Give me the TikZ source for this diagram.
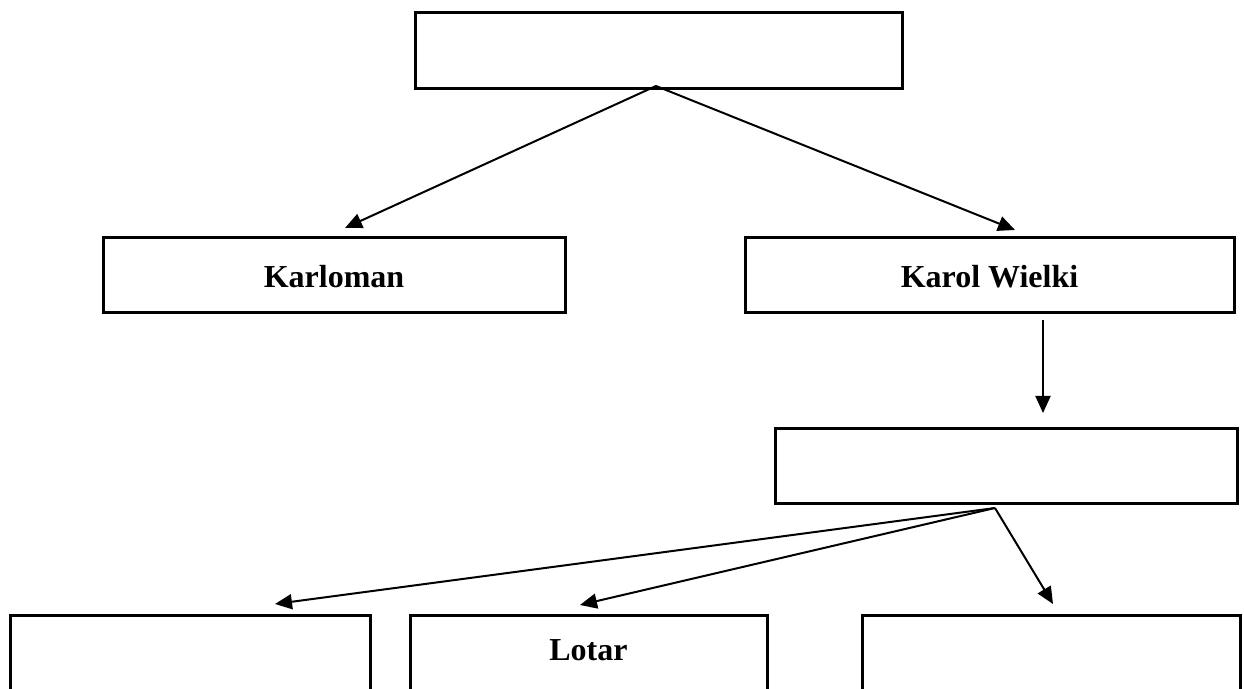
\documentclass[tikz,border=0pt]{standalone}
\usepackage{fontspec}
\setmainfont{Liberation Serif}
\usetikzlibrary{arrows.meta}
\begin{document}
\begin{tikzpicture}[x=0.5pt,y=-0.5pt,
  box/.style={draw=black,line width=1.5pt,rectangle,inner sep=0pt,fill=none},
  lbl/.style={font=\bfseries\fontsize{16}{19}\selectfont,inner sep=0pt},
  conn/.style={line width=1pt,-{Triangle[length=8.5pt,width=7.5pt]}}]
\useasboundingbox (0,0) rectangle (1244,689);
\clip (0,0) rectangle (1244,689);
% top row
\node[box,minimum width=243.5pt,minimum height=38pt] (top) at (658.5,51) {};
\node[box,minimum width=231pt,minimum height=37.5pt] (karloman) at (334,275.5) {};
\node[lbl] (karlomanT) at (334,277) {Karloman};
\node[box,minimum width=244.5pt,minimum height=37.5pt] (karol) at (989.5,275.5) {};
\node[lbl] (karolT) at (989.5,277) {Karol Wielki};
\node[box,minimum width=231pt,minimum height=37.5pt] (mid) at (1006,466) {};
% bottom row (cut off)
\node[box,minimum width=180pt,minimum height=60pt,anchor=north] (b1) at (190,614) {};
\node[box,minimum width=178.5pt,minimum height=60pt,anchor=north] (b2) at (588.5,614) {};
\node[lbl] (lotar) at (588.5,650) {Lotar};
\node[box,minimum width=189pt,minimum height=60pt,anchor=north] (b3) at (1051,614) {};
% connector points
\coordinate (s1) at (656,86);
\coordinate (t1) at (345,228);
\coordinate (t2) at (1015,230);
\coordinate (s3) at (1043,320);
\coordinate (t3) at (1043,413);
\coordinate (s4) at (995,508);
\coordinate (t4) at (275,604);
\coordinate (t5) at (580,605);
\coordinate (t6) at (1053,604);
\draw[conn] (s1) -- (t1);
\draw[conn] (s1) -- (t2);
\draw[conn] (s3) -- (t3);
\draw[conn] (s4) -- (t4);
\draw[conn] (s4) -- (t5);
\draw[conn] (s4) -- (t6);
\end{tikzpicture}
\end{document}
